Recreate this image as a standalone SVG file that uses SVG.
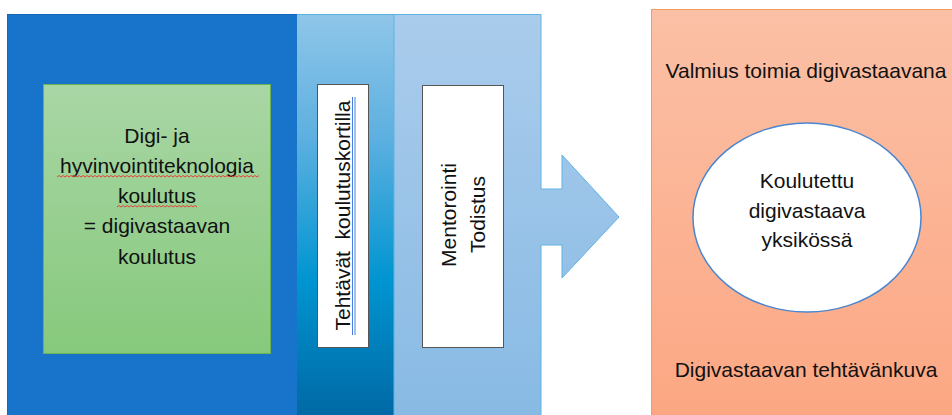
<svg xmlns="http://www.w3.org/2000/svg" width="952" height="415" viewBox="0 0 952 415">
  <defs>
    <linearGradient id="gMid1" x1="0" y1="0" x2="0" y2="1">
      <stop offset="0" stop-color="#8FC6E9"/>
      <stop offset="0.3" stop-color="#5DB0E0"/>
      <stop offset="0.65" stop-color="#0095D1"/>
      <stop offset="1" stop-color="#0066A2"/>
    </linearGradient>
    <linearGradient id="gArrow" gradientUnits="userSpaceOnUse" x1="0" y1="14" x2="0" y2="415">
      <stop offset="0" stop-color="#AACCEC"/>
      <stop offset="1" stop-color="#88BAE4"/>
    </linearGradient>
    <linearGradient id="gGreen" x1="0" y1="0" x2="0" y2="1">
      <stop offset="0" stop-color="#A9D6A5"/>
      <stop offset="1" stop-color="#86C97C"/>
    </linearGradient>
    <linearGradient id="gOrange" x1="0" y1="0" x2="0" y2="1">
      <stop offset="0" stop-color="#FBC0A6"/>
      <stop offset="1" stop-color="#FCA682"/>
    </linearGradient>
  </defs>
  <style>
    text { font-family: "Liberation Sans", Arial, sans-serif; font-size: 21px; fill: #111111; }
    .c { text-anchor: middle; }
    .pre { white-space: pre; }
    .box { fill: #FFFFFF; stroke: #555555; stroke-width: 1; }
    .squig { fill: none; stroke: #E8413A; stroke-width: 1; }
    .gram { stroke: #4A7FE0; stroke-width: 1; }
  </style>

  <rect width="952" height="415" fill="#FFFFFF"/>

  <g id="panel-left">
    <rect x="7.5" y="14.5" width="290" height="410" fill="#1873CA" stroke="#1666BA" stroke-width="1"/>
  </g>

  <g id="panel-mid1">
    <rect x="297" y="14" width="97" height="410" fill="url(#gMid1)"/>
    <line x1="297" y1="14.5" x2="394" y2="14.5" stroke="#5FB3E3" stroke-width="1"/>
  </g>

  <g id="panel-mid2-arrow">
    <path d="M394,14.5 H541 V189 H562 V155 L619,217 L562,278 V245 H541 V425 H394 Z" fill="url(#gArrow)" stroke="#5FB3E3" stroke-width="1"/>
  </g>

  <g id="node-training">
    <rect x="43.5" y="84.5" width="227" height="269" fill="url(#gGreen)" stroke="#6BB34F" stroke-width="1"/>
    <text class="c" x="157" y="143">Digi- ja</text>
    <text class="c" x="157" y="173">hyvinvointiteknologia</text>
    <text class="c" x="157" y="203">koulutus</text>
    <text class="c" x="157" y="233">= digivastaavan</text>
    <text class="c" x="157" y="264">koulutus</text>
    <polyline class="squig" points="57,177 59,175.5 61,177 63,175.5 65,177 67,175.5 69,177 71,175.5 73,177 75,175.5 77,177 79,175.5 81,177 83,175.5 85,177 87,175.5 89,177 91,175.5 93,177 95,175.5 97,177 99,175.5 101,177 103,175.5 105,177 107,175.5 109,177 111,175.5 113,177 115,175.5 117,177 119,175.5 121,177 123,175.5 125,177 127,175.5 129,177 131,175.5 133,177 135,175.5 137,177 139,175.5 141,177 143,175.5 145,177 147,175.5 149,177 151,175.5 153,177 155,175.5 157,177 159,175.5 161,177 163,175.5 165,177 167,175.5 169,177 171,175.5 173,177 175,175.5 177,177 179,175.5 181,177 183,175.5 185,177 187,175.5 189,177 191,175.5 193,177 195,175.5 197,177 199,175.5 201,177 203,175.5 205,177 207,175.5 209,177 211,175.5 213,177 215,175.5 217,177 219,175.5 221,177 223,175.5 225,177 227,175.5 229,177 231,175.5 233,177 235,175.5 237,177 239,175.5 241,177 243,175.5 245,177 247,175.5 249,177 251,175.5 253,177 255,175.5 257,177 259,175.5"/>
    <polyline class="squig" points="117,207 119,205.5 121,207 123,205.5 125,207 127,205.5 129,207 131,205.5 133,207 135,205.5 137,207 139,205.5 141,207 143,205.5 145,207 147,205.5 149,207 151,205.5 153,207 155,205.5 157,207 159,205.5 161,207 163,205.5 165,207 167,205.5 169,207 171,205.5 173,207 175,205.5 177,207 179,205.5 181,207 183,205.5 185,207 187,205.5 189,207 191,205.5 193,207 195,205.5 197,207"/>
  </g>

  <g id="node-tasks">
    <rect class="box" x="317.5" y="84.5" width="51" height="263"/>
    <text class="c pre" transform="translate(350,215.5) rotate(-90)">Tehtävät  koulutuskortilla</text>
    <line class="gram" x1="352.5" y1="97" x2="352.5" y2="335"/>
    <line class="gram" x1="355" y1="97" x2="355" y2="335"/>
  </g>

  <g id="node-mentoring">
    <rect class="box" x="422.5" y="85.5" width="81" height="262"/>
    <text class="c" transform="translate(456,215) rotate(-90)">Mentorointi</text>
    <text class="c" transform="translate(485,214.5) rotate(-90)">Todistus</text>
  </g>

  <g id="node-result">
    <rect x="651.5" y="9.5" width="310" height="420" fill="url(#gOrange)" stroke="#F59A5C" stroke-width="1"/>
    <text class="c" x="806" y="78">Valmius toimia digivastaavana</text>
    <text class="c" x="806" y="377">Digivastaavan tehtävänkuva</text>
  </g>

  <g id="node-trained">
    <ellipse cx="807" cy="217.5" rx="114" ry="94.5" fill="#FFFFFF" stroke="#4A86D0" stroke-width="1.5"/>
    <text class="c" x="807" y="188">Koulutettu</text>
    <text class="c" x="807" y="218">digivastaava</text>
    <text class="c" x="807" y="247">yksikössä</text>
  </g>

  <g id="connectors"></g>
</svg>
